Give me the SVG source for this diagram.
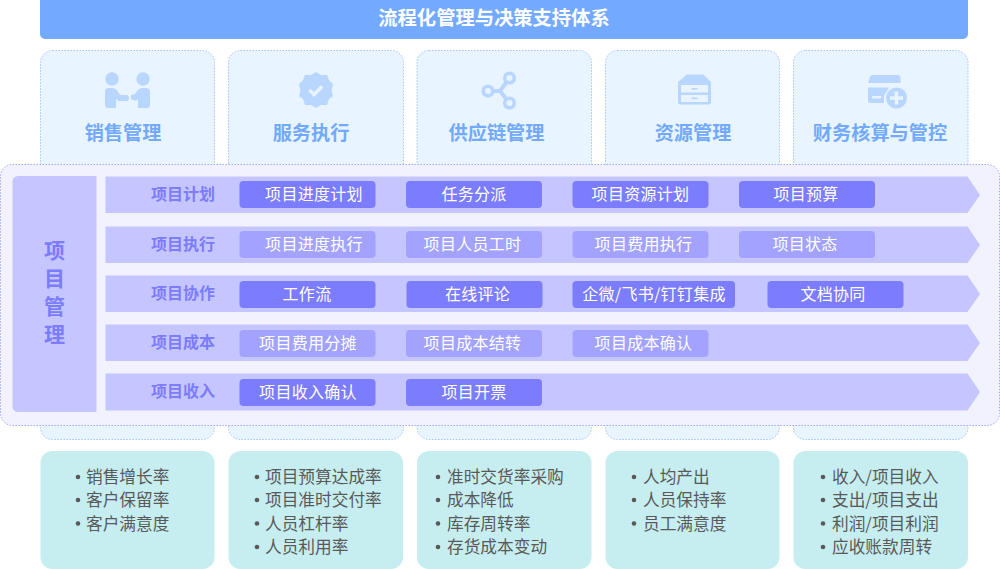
<svg xmlns="http://www.w3.org/2000/svg" width="1000" height="569" viewBox="0 0 1000 569">
<style>
text{font-family:"Noto Sans CJK SC","Liberation Sans",sans-serif;text-anchor:middle}
.col{fill:#e8f4ff;stroke:#a3c5fb;stroke-width:1;stroke-dasharray:1.5 1.5}
.coltx{font-size:19.200px;font-weight:700;fill:#73aafd}
.ic{fill:#b9d6ff}
.icb{fill:#e8f4ff}
.row{fill:#c5c5ff}
.rowtx{font-size:16px;font-weight:700;fill:#7c7cff}
.c1{fill:#7c7cff}
.c2{fill:#a3a3ff}
.chtx{font-size:16px;fill:#fff;letter-spacing:.3px}
.kpi{fill:#c6eef0}
.kt{font-size:16.700px;fill:#595959;text-anchor:start}
.dot{fill:#595959}
</style>
<g id="title"><path d="M40 0H968V34a5 5 0 0 1-5 5H45a5 5 0 0 1-5-5Z" fill="#73aaff"/><text x="494" y="25" font-size="19.300" font-weight="700" fill="#fff">流程化管理与决策支持体系</text></g>
<g id="col-sales"><rect class="col" x="40.500" y="50.500" width="174" height="389" rx="12"/>
<circle class="ic" cx="112" cy="79" r="6.700"/><circle class="ic" cx="143" cy="79" r="6.700"/>
<path class="ic" d="M105 92a4 4 0 0 1 4-4h3c4 0 6 3 8 7h6a2.800 2.800 0 0 1 0 6h-7l-3-2v9h-8a3 3 0 0 1-3-3Z"/>
<path class="ic" d="M150 92a4 4 0 0 0-4-4h-3c-4 0-6 3-8 6l-4 1v4l5 2 2-2v9h9a3 3 0 0 0 3-3Z"/>
<text class="coltx" x="123" y="139.500">销售管理</text></g>
<g id="col-service"><rect class="col" x="228.500" y="50.500" width="175" height="389" rx="12"/>
<path class="ic" d="M316 72l5 3 6 0 2 5 4 4-1.500 6 1.500 6-4 3-2 6-6 0-5 3-5-3-6 0-2-6-4-3 1.500-6-1.500-6 4-4 2-5 6 0Z"/>
<path d="M309.500 90l4.500 4.500 8-8" fill="none" stroke="#e8f4ff" stroke-width="3.500"/>
<text class="coltx" x="311" y="139.500">服务执行</text></g>
<g id="col-supply"><rect class="col" x="417" y="50.500" width="174.500" height="389" rx="12"/>
<path d="M488 91H500L509.500 78M500 91L509.500 103" fill="none" stroke="#b9d6ff" stroke-width="4"/>
<circle cx="488" cy="91" r="4.800" fill="#e8f4ff" stroke="#b9d6ff" stroke-width="3.500"/><circle cx="509.500" cy="78" r="4.800" fill="#e8f4ff" stroke="#b9d6ff" stroke-width="3.500"/><circle cx="509.500" cy="103" r="4.800" fill="#e8f4ff" stroke="#b9d6ff" stroke-width="3.500"/>
<text class="coltx" x="496.500" y="139.500">供应链管理</text></g>
<g id="col-resource"><rect class="col" x="605.500" y="50.500" width="174" height="389" rx="12"/>
<path class="ic" d="M687 74.500H703L711 82V102a2.500 2.500 0 0 1-2.500 2.500H680.500a2.500 2.500 0 0 1-2.500-2.500V82Z"/>
<path class="icb" d="M681 85H708V92.500H681ZM681 95H708V102H681Z"/>
<path class="ic" d="M691.500 88h6v1.800h-6ZM691.500 97.500h6v1.800h-6Z"/>
<text class="coltx" x="693" y="139.500">资源管理</text></g>
<g id="col-finance"><rect class="col" x="793.500" y="50.500" width="174.500" height="389" rx="12"/>
<path class="ic" d="M870 77.500a2.500 2.500 0 0 1 2.500-2.500H898a2.500 2.500 0 0 1 2.500 2.500V83H868Z"/>
<path class="ic" d="M868 87.500H889L884 96V103H870.500a2.500 2.500 0 0 1-2.500-2.500Z"/>
<rect class="icb" x="872" y="96" width="9" height="2.500"/>
<circle class="ic" cx="896.500" cy="98" r="10.500"/>
<path d="M890 98H903M896.500 91.500V104.500" stroke="#e8f4ff" stroke-width="3.500" fill="none"/>
<text class="coltx" x="880" y="139.500">财务核算与管控</text></g>
<g id="pm"><rect x="0.500" y="164.500" width="999" height="261" rx="12" fill="#f2f2ff" stroke="#a0a8f8" stroke-dasharray="1.500 1.500"/>
<path class="row" d="M18 176H96.500V412H18a5.500 5.500 0 0 1-5.500-5.500V181.500A5.500 5.500 0 0 1 18 176Z"/>
<text font-size="21" font-weight="700" fill="#7c7cff"><tspan x="54.500" y="258">项</tspan><tspan x="54.500" y="286">目</tspan><tspan x="54.500" y="314">管</tspan><tspan x="54.500" y="342">理</tspan></text></g>
<g id="row-plan"><path class="row" d="M105.500 176.500H967.500L980 195 967.500 213H105.500Z"/><text class="rowtx" x="183" y="199.500">项目计划</text>
<rect class="c1" x="239.500" y="181" width="136" height="27" rx="4"/><text class="chtx" x="314" y="200">项目进度计划</text>
<rect class="c1" x="406" y="181" width="136" height="27" rx="4"/><text class="chtx" x="474" y="200">任务分派</text>
<rect class="c1" x="572.500" y="181" width="136" height="27" rx="4"/><text class="chtx" x="640.500" y="200">项目资源计划</text>
<rect class="c1" x="739" y="181" width="136" height="27" rx="4"/><text class="chtx" x="806" y="200">项目预算</text></g>
<g id="row-exec"><path class="row" d="M105.500 226.500H967.500L980 245 967.500 263H105.500Z"/><text class="rowtx" x="183" y="249.500">项目执行</text>
<rect class="c2" x="239.500" y="231" width="136" height="27" rx="4"/><text class="chtx" x="314" y="250">项目进度执行</text>
<rect class="c2" x="406" y="231" width="136" height="27" rx="4"/><text class="chtx" x="472.500" y="250">项目人员工时</text>
<rect class="c2" x="572.500" y="231" width="136" height="27" rx="4"/><text class="chtx" x="643.500" y="250">项目费用执行</text>
<rect class="c2" x="739" y="231" width="136" height="27" rx="4"/><text class="chtx" x="805" y="250">项目状态</text></g>
<g id="row-collab"><path class="row" d="M105.500 275.500H967.500L980 294 967.500 312H105.500Z"/><text class="rowtx" x="183" y="298.500">项目协作</text>
<rect class="c1" x="239.500" y="281" width="136" height="27" rx="4"/><text class="chtx" x="307" y="299.500">工作流</text>
<rect class="c1" x="406.500" y="281" width="136" height="27" rx="4"/><text class="chtx" x="477.500" y="299.500">在线评论</text>
<rect class="c1" x="572.500" y="281" width="162.500" height="27" rx="4"/><text class="chtx" x="654" y="299.500">企微/飞书/钉钉集成</text>
<rect class="c1" x="767.500" y="281" width="136" height="27" rx="4"/><text class="chtx" x="833" y="299.500">文档协同</text></g>
<g id="row-cost"><path class="row" d="M105.500 324.500H967.500L980 343 967.500 361H105.500Z"/><text class="rowtx" x="183" y="347.500">项目成本</text>
<rect class="c2" x="239.500" y="330" width="136" height="27" rx="4"/><text class="chtx" x="308" y="349">项目费用分摊</text>
<rect class="c2" x="406" y="330" width="136" height="27" rx="4"/><text class="chtx" x="472.500" y="349">项目成本结转</text>
<rect class="c2" x="572.500" y="330" width="136" height="27" rx="4"/><text class="chtx" x="643.500" y="349">项目成本确认</text></g>
<g id="row-income"><path class="row" d="M105.500 373.500H967.500L980 392 967.500 410.500H105.500Z"/><text class="rowtx" x="183" y="397">项目收入</text>
<rect class="c1" x="239.500" y="379" width="136" height="27" rx="4"/><text class="chtx" x="308" y="398">项目收入确认</text>
<rect class="c1" x="406" y="379" width="136" height="27" rx="4"/><text class="chtx" x="474" y="398">项目开票</text></g>
<g id="kpi-1"><rect class="kpi" x="40.500" y="451" width="174" height="118" rx="12"/>
<circle class="dot" cx="78" cy="477" r="2.300"/><circle class="dot" cx="78" cy="500" r="2.300"/><circle class="dot" cx="78" cy="523.500" r="2.300"/>
<text class="kt" x="86" y="483">销售增长率</text><text class="kt" x="86" y="506">客户保留率</text><text class="kt" x="86" y="529.500">客户满意度</text></g>
<g id="kpi-2"><rect class="kpi" x="228.500" y="451" width="174.500" height="118" rx="12"/>
<circle class="dot" cx="257" cy="477" r="2.300"/><circle class="dot" cx="257" cy="500" r="2.300"/><circle class="dot" cx="257" cy="523.500" r="2.300"/><circle class="dot" cx="257" cy="547" r="2.300"/>
<text class="kt" x="265" y="483">项目预算达成率</text><text class="kt" x="265" y="506">项目准时交付率</text><text class="kt" x="265" y="529.500">人员杠杆率</text><text class="kt" x="265" y="553">人员利用率</text></g>
<g id="kpi-3"><rect class="kpi" x="417" y="451" width="174.500" height="118" rx="12"/>
<circle class="dot" cx="438" cy="477" r="2.300"/><circle class="dot" cx="438" cy="500" r="2.300"/><circle class="dot" cx="438" cy="523.500" r="2.300"/><circle class="dot" cx="438" cy="547" r="2.300"/>
<text class="kt" x="447" y="483">准时交货率采购</text><text class="kt" x="447" y="506">成本降低</text><text class="kt" x="447" y="529.500">库存周转率</text><text class="kt" x="447" y="553">存货成本变动</text></g>
<g id="kpi-4"><rect class="kpi" x="605.500" y="451" width="174" height="118" rx="12"/>
<circle class="dot" cx="634" cy="477" r="2.300"/><circle class="dot" cx="634" cy="500" r="2.300"/><circle class="dot" cx="634" cy="523.500" r="2.300"/>
<text class="kt" x="643" y="483">人均产出</text><text class="kt" x="643" y="506">人员保持率</text><text class="kt" x="643" y="529.500">员工满意度</text></g>
<g id="kpi-5"><rect class="kpi" x="793.500" y="451" width="174.500" height="118" rx="12"/>
<circle class="dot" cx="823" cy="477" r="2.300"/><circle class="dot" cx="823" cy="500" r="2.300"/><circle class="dot" cx="823" cy="523.500" r="2.300"/><circle class="dot" cx="823" cy="547" r="2.300"/>
<text class="kt" x="832" y="483">收入/项目收入</text><text class="kt" x="832" y="506">支出/项目支出</text><text class="kt" x="832" y="529.500">利润/项目利润</text><text class="kt" x="832" y="553">应收账款周转</text></g>
</svg>
